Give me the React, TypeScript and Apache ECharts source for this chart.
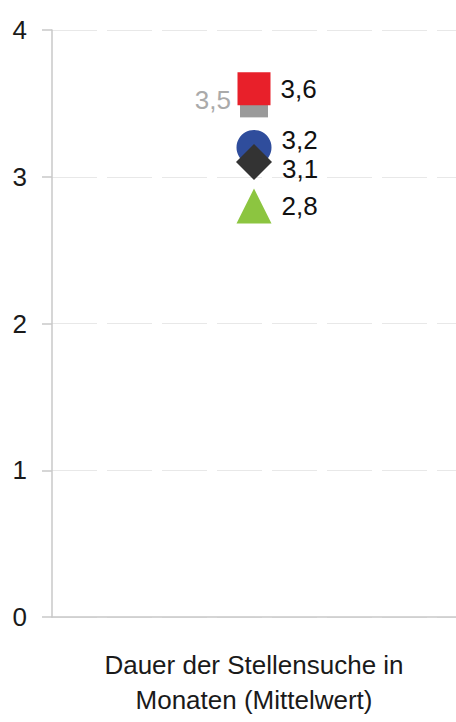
import React, { useEffect, useRef } from "react";
import * as echarts from "echarts";

const categories = ["Dauer der Stellensuche in\nMonaten (Mittelwert)"];
const yTicks = { min: 0, max: 4, interval: 1 };

type Pt = { name: string; value: number; symbol: string; size: number; color: string; labelColor: string; pos: string; dist: number; offsetY: number };

const points: Pt[] = [
  { name: "grau", value: 3.5, symbol: "rect", size: 28, color: "#9a9a9a", labelColor: "#aaaaaa", pos: "left", dist: 9, offsetY: -3 },
  { name: "rot", value: 3.6, symbol: "rect", size: 33, color: "#e8202a", labelColor: "#111111", pos: "right", dist: 10, offsetY: 0 },
  { name: "blau", value: 3.2, symbol: "circle", size: 35, color: "#2f4d9c", labelColor: "#111111", pos: "right", dist: 10, offsetY: -7 },
  { name: "schwarz", value: 3.1, symbol: "diamond", size: 36, color: "#333333", labelColor: "#111111", pos: "right", dist: 10, offsetY: 7 },
  { name: "gruen", value: 2.8, symbol: "triangle", size: 35, color: "#8cc540", labelColor: "#111111", pos: "right", dist: 10, offsetY: 0 },
];

const FONT = "'Liberation Sans', Arial, sans-serif";

export default function App() {
  const ref = useRef<HTMLDivElement>(null);
  useEffect(() => {
    if (!ref.current) return;
    const chart = echarts.init(ref.current, undefined, { renderer: "svg" });
    chart.setOption({
      animation: false,
      backgroundColor: "#ffffff",
      grid: { left: 52, right: 0, top: 30, bottom: 105, containLabel: false },
      xAxis: {
        type: "category",
        data: categories,
        axisLine: { show: true, lineStyle: { color: "#c8c8c8", width: 1.5 } },
        axisTick: { show: false },
        splitLine: { show: false },
        axisLabel: {
          fontFamily: FONT,
          fontSize: 26,
          color: "#1a1a1a",
          lineHeight: 35,
          margin: 30,
          align: "center",
        },
      },
      yAxis: {
        type: "value",
        min: yTicks.min,
        max: yTicks.max,
        interval: yTicks.interval,
        axisLine: { show: true, lineStyle: { color: "#c8c8c8", width: 1.5 } },
        axisTick: { show: true, inside: false, length: 10, lineStyle: { color: "#c8c8c8", width: 1.5 } },
        splitLine: { show: true, lineStyle: { color: "#e8e8e8", width: 1, type: [45, 10] } },
        axisLabel: {
          fontFamily: FONT,
          fontSize: 26,
          color: "#1a1a1a",
          margin: 25,
        },
      },
      series: points.map((p, i) => ({
        type: "scatter",
        name: p.name,
        z: 2 + i,
        symbol: p.symbol,
        symbolSize: p.size,
        itemStyle: { color: p.color, opacity: 1 },
        label: {
          show: true,
          position: p.pos,
          distance: p.dist,
          offset: [0, p.offsetY],
          fontFamily: FONT,
          fontSize: 26,
          lineHeight: 20,
          color: p.labelColor,
          formatter: (d: any) => String(d.value[1]).replace(".", ","),
        },
        data: [[categories[0], p.value]],
      })),
    });
    return () => chart.dispose();
  }, []);
  return <div ref={ref} style={{ position: "fixed", left: 0, top: 0, width: 456, height: 722 }} />;
}
